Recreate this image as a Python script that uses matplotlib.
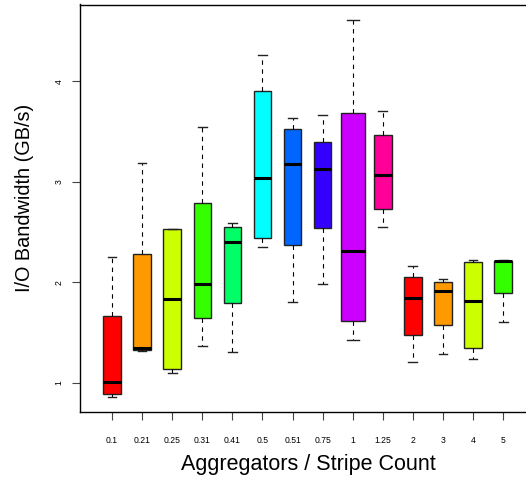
import matplotlib
matplotlib.use("Agg")
import matplotlib.pyplot as plt

categories = ["0.1", "0.21", "0.25", "0.31", "0.41", "0.5", "0.51", "0.75",
              "1", "1.25", "2", "3", "4", "5"]
whis_lo = [0.86, 1.32, 1.10, 1.37, 1.31, 2.35, 1.81, 1.985, 1.43, 2.555, 1.21, 1.29, 1.24, 1.61]
q1      = [0.89, 1.325, 1.14, 1.65, 1.80, 2.44, 2.37, 2.545, 1.62, 2.73, 1.48, 1.58, 1.35, 1.90]
median  = [1.01, 1.345, 1.84, 1.98, 2.40, 3.04, 3.18, 3.13, 2.31, 3.07, 1.85, 1.92, 1.82, 2.21]
q3      = [1.67, 2.28, 2.53, 2.79, 2.55, 3.91, 3.53, 3.40, 3.69, 3.47, 2.05, 2.00, 2.20, 2.215]
whis_hi = [2.25, 3.19, 2.535, 3.55, 2.59, 4.26, 3.64, 3.67, 4.615, 3.71, 2.16, 2.03, 2.22, 2.22]
box_widths = [0.59, 0.58, 0.59, 0.58, 0.58, 0.58, 0.58, 0.58, 0.8, 0.59, 0.58, 0.58, 0.59, 0.59]
palette = ["#FF0000", "#FF9900", "#CCFF00", "#33FF00", "#00FF66",
           "#00FFFF", "#0066FF", "#3300FF", "#CC00FF", "#FF0099"]
colors = [palette[i % len(palette)] for i in range(len(categories))]
yticks = [1, 2, 3, 4]

plt.rcParams['font.family'] = ['Liberation Sans', 'DejaVu Sans']

fig = plt.figure(figsize=(5.26, 4.8), dpi=100)
ax = fig.add_axes([80/526, 1 - 412/480, (535 - 80)/526, (412 - 4.5)/480])

stats = []
for i, c in enumerate(categories):
    stats.append(dict(label=c, whislo=whis_lo[i], q1=q1[i], med=median[i],
                      q3=q3[i], whishi=whis_hi[i], fliers=[]))

positions = list(range(1, len(categories) + 1))
bp = ax.bxp(stats, positions=positions, widths=box_widths,
            capwidths=[w / 2 for w in box_widths],
            patch_artist=True, showfliers=False,
            boxprops=dict(edgecolor="#222222", linewidth=1.0),
            medianprops=dict(color="black", linewidth=2.2, solid_capstyle="butt"),
            whiskerprops=dict(color="black", linewidth=0.8, linestyle=(0, (4, 4))),
            capprops=dict(color="#222222", linewidth=1.0))
for patch, col in zip(bp['boxes'], colors):
    patch.set_facecolor(col)

ax.set_xlim(-0.064, 15.06)
ax.set_ylim(0.711, 4.766)
ax.set_xticks(positions)
ax.set_xticklabels(categories, fontsize=6.2)
ax.set_yticks(yticks)
ax.set_yticklabels([str(v) for v in yticks], fontsize=6.2, rotation=90, va='center')
ax.tick_params(axis='x', length=6, width=0.8, pad=11, color="#444444")
ax.tick_params(axis='y', length=6, width=0.8, pad=6, color="#444444")
for s in ax.spines.values():
    s.set_linewidth(1.0)

ax.set_xlabel("Aggregators / Stripe Count", fontsize=15.5, va='center', ha='center')
ax.xaxis.set_label_coords(0.501, -0.130)
ax.set_ylabel("I/O Bandwidth (GB/s)", fontsize=14.3, va='center', ha='center',
              rotation_mode='default')
ax.yaxis.set_label_coords(-0.123, 0.525)

fig.savefig("out.png", dpi=100)
